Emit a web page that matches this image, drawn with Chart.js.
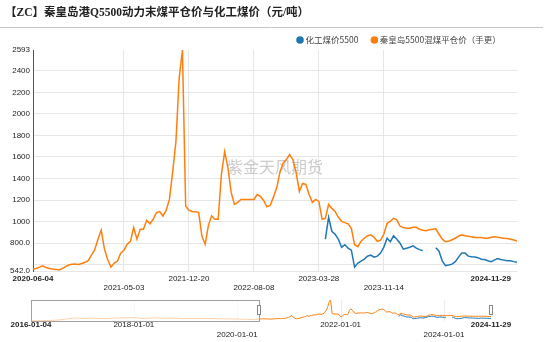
<!DOCTYPE html>
<html>
<head>
<meta charset="utf-8">
<script src="https://cdn.jsdelivr.net/npm/chart.js@4.4.1/dist/chart.umd.min.js"></script>
<style>
  body { margin: 0; background: #fff; }
  #wrap { position: relative; width: 550px; height: 342px; }
  #main { position: absolute; left: 0; top: 0; }
  #nav { position: absolute; left: 0; top: 290px; }
</style>
</head>
<body>
<div id="wrap">
  <canvas id="main" width="550" height="342"></canvas>
  <canvas id="nav" width="550" height="52"></canvas>
</div>
<script>
const titleText = '【ZC】秦皇岛港Q5500动力末煤平仓价与化工煤价（元/吨）';
const seriesNames = ['化工煤价5500', '秦皇岛5500混煤平仓价（手更）'];
const seriesColors = ['#1f77b4', '#ff7f0e'];
const watermark = '紫金天风期货';

// x axis: sample index -> date label, two staggered rows
const xTickIdx = [0, 28, 48, 68, 88, 108, 149];
const xTickLabels = ['2020-06-04', '2021-05-03', '2021-12-20', '2022-08-08', '2023-03-28', '2023-11-14', '2024-11-29'];
const xTickRow = [0, 1, 0, 1, 0, 1, 0];

const yTicks = [542, 600, 800, 1000, 1200, 1400, 1600, 1800, 2000, 2200, 2400, 2593];

// 秦皇岛5500 混煤平仓价
const portPrice = [
  560, 565, 578, 590, 574, 566, 560, 557, 551, 565,
  583, 597, 604, 606, 603, 611, 623, 638, 689, 740,
  837, 920, 745, 646, 578, 615, 634, 708, 735, 791,
  818, 945, 837, 929, 929, 1012, 980, 1022, 1083, 1093,
  1052, 1105, 1206, 1465, 1742, 2333, 2593, 1142, 1105, 1095,
  1091, 1086, 867, 791, 966, 1054, 1022, 1022, 1437, 1649,
  1502, 1271, 1160, 1179, 1206, 1206, 1206, 1206, 1206, 1252,
  1234, 1197, 1137, 1151, 1225, 1312, 1456, 1543, 1576, 1622,
  1576, 1456, 1280, 1354, 1345, 1252, 1179, 1206, 1188, 1022,
  1031, 1160, 1123, 1095, 1040, 1003, 991, 980, 938, 786,
  768, 818, 846, 869, 878, 855, 818, 828, 883, 985,
  1003, 1031, 1017, 957, 945, 938, 938, 948, 948, 929,
  920, 915, 925, 929, 934, 883, 837, 814, 818, 832,
  846, 865, 877, 869, 865, 860, 853, 853, 853, 846,
  846, 855, 860, 855, 851, 846, 843, 837, 830, 821
];

// 化工煤价5500, starts later than the port series
const chemStart = 90;
const chemPrice = [
  837, 1040, 911, 883, 837, 763, 786, 754, 735, 578,
  615, 634, 652, 680, 689, 671, 680, 708, 763, 846,
  814, 869, 837, 800, 745, 754, 763, 775, 754, 740,
  731, null, null, null, 758, 726, 634, 592, 597, 606,
  629, 671, 708, 708, 680, 674, 671, 666, 652, 648,
  637, 629, 643, 657, 648, 643, 637, 637, 629, 622
];

// navigator: full history in years
const navEarlyYear = [2016.01, 2016.3, 2016.5, 2016.7, 2016.85, 2017.0, 2017.2, 2017.4, 2017.6, 2017.8,
  2018.0, 2018.2, 2018.4, 2018.6, 2018.8, 2019.0, 2019.2, 2019.4, 2019.6, 2019.8, 2020.0, 2020.2, 2020.33];
const navEarlyPrice = [370, 390, 430, 560, 680, 620, 640, 600, 650, 680,
  720, 600, 690, 630, 650, 600, 630, 620, 590, 570, 560, 520, 480];
const navTickYear = [2016.01, 2018, 2020, 2022, 2024, 2024.91];
const navTickLabels = ['2016-01-04', '2018-01-01', '2020-01-01', '2022-01-01', '2024-01-01', '2024-11-29'];
const navTickRow = [0, 0, 1, 0, 1, 0];
const viewStart = 2020.42;
const viewEnd = 2024.91;

const axisFont = '8px "Liberation Sans", Arial, sans-serif';
const axisFontBold = 'bold 8px "Liberation Sans", Arial, sans-serif';

const portPoints = portPrice.map((v, i) => ({ x: i, y: v }));
const chemPoints = chemPrice.map((v, i) => ({ x: chemStart + i, y: v }));

const mainDecor = {
  id: 'mainDecor',
  beforeDatasetsDraw(chart) {
    const { ctx, chartArea } = chart;
    ctx.save();
    ctx.font = '16px "Noto Sans CJK SC", sans-serif';
    ctx.fillStyle = 'rgba(160,160,160,0.55)';
    ctx.textAlign = 'center';
    ctx.textBaseline = 'middle';
    ctx.fillText(watermark, (chartArea.left + chartArea.right) / 2, 167);
    ctx.restore();
  },
  afterDraw(chart) {
    const { ctx } = chart;
    const xs = chart.scales.x;
    ctx.save();
    // title + rule under it
    ctx.font = 'bold 11.5px "Liberation Serif", "Noto Sans CJK SC", serif';
    ctx.fillStyle = '#222';
    ctx.textBaseline = 'middle';
    ctx.textAlign = 'left';
    ctx.fillText(titleText, 5, 13);
    ctx.strokeStyle = '#c4c4c4';
    ctx.lineWidth = 1;
    ctx.beginPath();
    ctx.moveTo(0, 27.5);
    ctx.lineTo(543, 27.5);
    ctx.stroke();

    // legend
    ctx.font = '8.5px "Noto Sans CJK SC", sans-serif';
    let lx = 300;
    seriesNames.forEach((name, k) => {
      ctx.fillStyle = seriesColors[k];
      ctx.beginPath();
      ctx.arc(lx, 40, 3.8, 0, Math.PI * 2);
      ctx.fill();
      ctx.fillStyle = '#444';
      ctx.fillText(name, lx + 5.5, 40);
      lx += 5.5 + ctx.measureText(name).width + 16;
    });

    // x tick labels
    const last = xTickIdx.length - 1;
    ctx.fillStyle = '#222';
    xTickIdx.forEach((idx, k) => {
      const px = xs.getPixelForValue(idx);
      const y = xTickRow[k] === 0 ? 279 : 287.5;
      ctx.font = (k === 0 || k === last) ? axisFontBold : axisFont;
      if (k === last) {
        ctx.textAlign = 'right';
        ctx.fillText(xTickLabels[k], px - 6, y);
      } else {
        ctx.textAlign = 'center';
        ctx.fillText(xTickLabels[k], px, y);
      }
    });
    ctx.restore();
  }
};

new Chart(document.getElementById('main').getContext('2d'), {
  type: 'line',
  data: {
    datasets: [
      { label: seriesNames[0], data: chemPoints, borderColor: seriesColors[0], borderWidth: 1.5, pointRadius: 0, tension: 0 },
      { label: seriesNames[1], data: portPoints, borderColor: seriesColors[1], borderWidth: 1.5, pointRadius: 0, tension: 0 }
    ]
  },
  options: {
    responsive: false,
    animation: false,
    layout: { padding: { left: 0, right: 33, top: 50, bottom: 71 } },
    plugins: { legend: { display: false }, title: { display: false }, tooltip: { enabled: false } },
    scales: {
      x: {
        type: 'linear',
        min: 0,
        max: portPrice.length - 1,
        afterBuildTicks: (s) => { s.ticks = xTickIdx.map(v => ({ value: v })); },
        afterFit: (s) => { s.height = 0; },
        ticks: { display: false },
        border: { display: false },
        grid: {
          drawTicks: false,
          color: (c) => (c.index === 0 || c.index === xTickIdx.length - 1) ? 'rgba(0,0,0,0)' : '#e6e6e6'
        }
      },
      y: {
        min: yTicks[0],
        max: yTicks[yTicks.length - 1],
        afterBuildTicks: (s) => { s.ticks = yTicks.map(v => ({ value: v })); },
        afterFit: (s) => { s.width = 33; },
        border: { display: true, color: '#555', width: 1 },
        grid: {
          drawTicks: false,
          color: (c) => c.tick && c.tick.value === 2593 ? 'rgba(0,0,0,0)' : '#e6e6e6'
        },
        ticks: {
          padding: 3,
          color: '#222',
          font: { size: 8, family: '"Liberation Sans", Arial, sans-serif' },
          callback: (v) => {
            if (v === 600) return '';
            if (v < 1000) return v.toFixed(1);
            return String(v);
          }
        }
      }
    }
  },
  plugins: [mainDecor]
});

// navigator strip
const navStep = (viewEnd - viewStart) / (portPrice.length - 1);
const navPort = navEarlyYear.map((yr, i) => ({ x: yr, y: navEarlyPrice[i] }))
  .concat(portPrice.map((v, i) => ({ x: viewStart + i * navStep, y: v })));
const navChem = chemPrice.map((v, i) => ({ x: viewStart + (chemStart + i) * navStep, y: v }));

const navDecor = {
  id: 'navDecor',
  beforeDatasetsDraw(chart) {
    const { ctx, chartArea } = chart;
    const xs = chart.scales.x;
    ctx.save();
    ctx.strokeStyle = '#ececec';
    ctx.lineWidth = 1;
    navTickYear.slice(1, -1).forEach(yr => {
      const px = Math.round(xs.getPixelForValue(yr)) + 0.5;
      ctx.beginPath();
      ctx.moveTo(px, chartArea.top);
      ctx.lineTo(px, chartArea.bottom);
      ctx.stroke();
    });
    ctx.restore();
  },
  afterDatasetsDraw(chart) {
    const { ctx, chartArea } = chart;
    const xs = chart.scales.x;
    const x0 = xs.getPixelForValue(navTickYear[0]);
    const x1 = xs.getPixelForValue(viewStart);
    const x2 = xs.getPixelForValue(viewEnd);
    ctx.save();
    // shaded span left of the view window
    ctx.fillStyle = 'rgba(255,255,255,0.65)';
    ctx.fillRect(x0, chartArea.top, x1 - x0, chartArea.bottom - chartArea.top);
    ctx.strokeStyle = '#a0a0a0';
    ctx.lineWidth = 1;
    ctx.strokeRect(Math.round(x0) + 0.5, chartArea.top + 0.5, Math.round(x1 - x0), chartArea.bottom - chartArea.top);
    // handles
    [x1, x2].forEach(px => {
      ctx.fillStyle = '#fff';
      ctx.strokeStyle = '#888';
      ctx.fillRect(Math.round(px) - 1.5, 15.5, 3, 9);
      ctx.strokeRect(Math.round(px) - 1.5, 15.5, 3, 9);
    });
    // labels
    ctx.fillStyle = '#222';
    ctx.textAlign = 'center';
    ctx.textBaseline = 'middle';
    const last = navTickYear.length - 1;
    navTickYear.forEach((yr, k) => {
      ctx.font = (k === 0 || k === last) ? axisFontBold : axisFont;
      ctx.fillText(navTickLabels[k], xs.getPixelForValue(yr), navTickRow[k] === 0 ? 35 : 45);
    });
    ctx.restore();
  }
};

new Chart(document.getElementById('nav').getContext('2d'), {
  type: 'line',
  data: {
    datasets: [
      { data: navChem, borderColor: seriesColors[0], borderWidth: 1, pointRadius: 0, tension: 0 },
      { data: navPort, borderColor: seriesColors[1], borderWidth: 1, pointRadius: 0, tension: 0 }
    ]
  },
  options: {
    responsive: false,
    animation: false,
    layout: { padding: { left: 31, right: 59, top: 10, bottom: 21 } },
    plugins: { legend: { display: false }, tooltip: { enabled: false } },
    scales: {
      x: { type: 'linear', display: false, min: navTickYear[0], max: viewEnd },
      y: { display: false, min: 346, max: 2593 }
    }
  },
  plugins: [navDecor]
});
</script>
</body>
</html>
